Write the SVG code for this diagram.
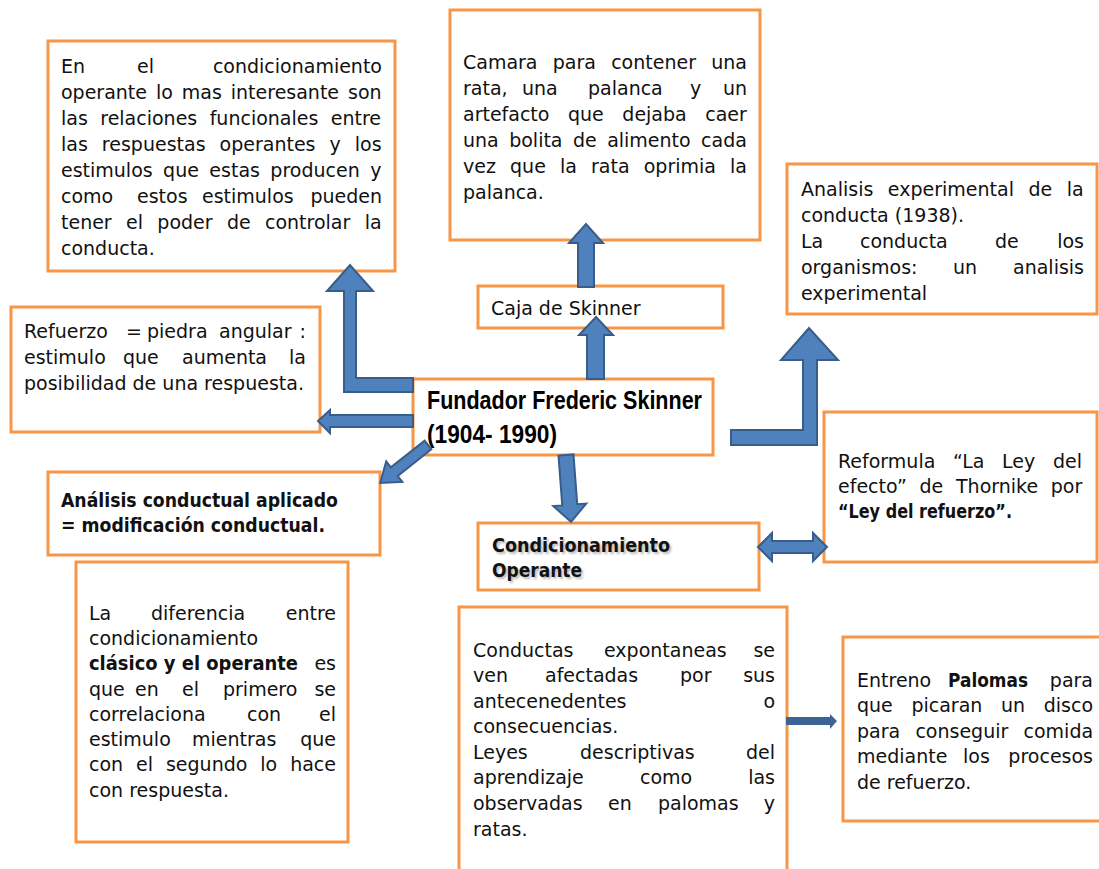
<svg xmlns="http://www.w3.org/2000/svg" width="1099" height="869" viewBox="0 0 1099 869">
<style>
.box{fill:#fff;stroke:#F79646;stroke-width:3}
.t{font-family:"DejaVu Sans",sans-serif;font-size:19px;fill:#111}
.b{font-weight:bold}
.ttl{font-family:"Liberation Sans",Arial,sans-serif;font-size:25px;font-weight:bold;fill:#000}
.arr{fill:#4F81BD;stroke:#385D8A;stroke-width:2;stroke-linejoin:miter}
.arr2{fill:#3D6396}
.sh{fill:#8a8a8a;opacity:0.6}
</style>
<defs>
<filter id="blur" x="-5%" y="-20%" width="110%" height="140%"><feGaussianBlur stdDeviation="0.8"/></filter>
</defs>
<rect width="1099" height="869" fill="#fff"/>

<g id="n-operante-texto">
<rect class="box" x="48" y="41" width="347" height="230"/>
<text class="t" y="73"><tspan x="61">En</tspan><tspan x="137">el</tspan><tspan x="382" text-anchor="end">condicionamiento</tspan></text>
<text class="t" x="61" y="99" word-spacing="2.9">operante lo mas interesante son</text>
<text class="t" x="61" y="125" word-spacing="6.4">las relaciones funcionales entre</text>
<text class="t" x="61" y="151" word-spacing="8">las respuestas operantes y los</text>
<text class="t" x="61" y="177" word-spacing="4.4">estimulos que estas producen y</text>
<text class="t" y="203"><tspan x="61">como</tspan><tspan x="137">estos</tspan><tspan x="202">estimulos</tspan><tspan x="382" text-anchor="end">pueden</tspan></text>
<text class="t" x="61" y="229" word-spacing="8.3">tener el poder de controlar la</text>
<text class="t" x="61" y="255">conducta.</text>
</g>

<g id="n-camara">
<rect class="box" x="450" y="10" width="310" height="230"/>
<text class="t" x="463" y="69" word-spacing="9.2">Camara para contener una</text>
<text class="t" y="95"><tspan x="463">rata,</tspan><tspan x="522">una</tspan><tspan x="588">palanca</tspan><tspan x="690">y</tspan><tspan x="747" text-anchor="end">un</tspan></text>
<text class="t" x="463" y="121" word-spacing="12.5">artefacto que dejaba caer</text>
<text class="t" x="463" y="147" word-spacing="4.4">una bolita de alimento cada</text>
<text class="t" x="463" y="173" word-spacing="8.1">vez que la rata oprimia la</text>
<text class="t" x="463" y="199">palanca.</text>
</g>

<g id="n-caja">
<rect class="box" x="478" y="286" width="245" height="42"/>
<text class="t" x="491" y="315">Caja de Skinner</text>
</g>

<g id="n-analisis-exp">
<rect class="box" x="787" y="164" width="310" height="150"/>
<text class="t" x="801" y="196" word-spacing="8.5">Analisis experimental de la</text>
<text class="t" x="801" y="222">conducta (1938).</text>
<text class="t" y="248"><tspan x="801">La</tspan><tspan x="860">conducta</tspan><tspan x="995">de</tspan><tspan x="1084" text-anchor="end">los</tspan></text>
<text class="t" y="274"><tspan x="801">organismos:</tspan><tspan x="953">un</tspan><tspan x="1084" text-anchor="end">analisis</tspan></text>
<text class="t" x="801" y="300">experimental</text>
</g>

<g id="n-refuerzo">
<rect class="box" x="11" y="307" width="309" height="125"/>
<text class="t" y="338"><tspan x="24">Refuerzo</tspan><tspan x="126">=</tspan><tspan x="147">piedra</tspan><tspan x="219">angular</tspan><tspan x="306" text-anchor="end">:</tspan></text>
<text class="t" y="364"><tspan x="24">estimulo</tspan><tspan x="123">que</tspan><tspan x="182">aumenta</tspan><tspan x="306" text-anchor="end">la</tspan></text>
<text class="t" x="24" y="390">posibilidad de una respuesta.</text>
</g>

<g id="n-central">
<rect class="box" x="413" y="379" width="300" height="76"/>
<text class="ttl" x="427" y="409" textLength="275" lengthAdjust="spacingAndGlyphs">Fundador Frederic Skinner</text>
<text class="ttl" x="427" y="443" textLength="130" lengthAdjust="spacingAndGlyphs">(1904- 1990)</text>
</g>

<g id="n-aplicado">
<rect class="box" x="48" y="472" width="332" height="83"/>
<text class="t b" x="61" y="507" font-size="18" textLength="277" lengthAdjust="spacingAndGlyphs">Análisis conductual aplicado</text>
<text class="t b" x="61" y="532" font-size="18" textLength="264" lengthAdjust="spacingAndGlyphs">= modificación conductual.</text>
</g>

<g id="n-condicionamiento">
<rect class="box" x="478" y="523" width="281" height="67"/>
<g filter="url(#blur)">
<text class="t b sh" x="494" y="554" font-size="18" textLength="178" lengthAdjust="spacingAndGlyphs">Condicionamiento</text>
<text class="t b sh" x="494" y="579" font-size="18" textLength="90" lengthAdjust="spacingAndGlyphs">Operante</text>
</g>
<text class="t b" x="492" y="552" font-size="18" textLength="178" lengthAdjust="spacingAndGlyphs">Condicionamiento</text>
<text class="t b" x="492" y="577" font-size="18" textLength="90" lengthAdjust="spacingAndGlyphs">Operante</text>
</g>

<g id="n-reformula">
<rect class="box" x="824" y="412" width="273" height="150"/>
<text class="t" x="838" y="468" word-spacing="11.6">Reformula “La Ley del</text>
<text class="t" x="838" y="493" word-spacing="6.7">efecto” de Thornike por</text>
<text class="t b" x="838" y="518" textLength="174" lengthAdjust="spacingAndGlyphs">“Ley del refuerzo”.</text>
</g>

<g id="n-diferencia">
<rect class="box" x="76" y="562" width="272" height="280"/>
<text class="t" y="620"><tspan x="89">La</tspan><tspan x="151">diferencia</tspan><tspan x="336" text-anchor="end">entre</tspan></text>
<text class="t" x="89" y="645">condicionamiento</text>
<text class="t" y="670"><tspan class="b" x="89" textLength="209" lengthAdjust="spacingAndGlyphs">clásico y el operante</tspan><tspan x="336" text-anchor="end">es</tspan></text>
<text class="t" y="696"><tspan x="89">que</tspan><tspan x="135">en</tspan><tspan x="182">el</tspan><tspan x="223">primero</tspan><tspan x="336" text-anchor="end">se</tspan></text>
<text class="t" y="721"><tspan x="89">correlaciona</tspan><tspan x="247">con</tspan><tspan x="336" text-anchor="end">el</tspan></text>
<text class="t" y="746"><tspan x="89">estimulo</tspan><tspan x="192">mientras</tspan><tspan x="336" text-anchor="end">que</tspan></text>
<text class="t" x="89" y="771" word-spacing="6.9">con el segundo lo hace</text>
<text class="t" x="89" y="797">con respuesta.</text>
</g>

<g id="n-conductas">
<rect class="box" x="459" y="607" width="328" height="275"/>
<text class="t" y="657"><tspan x="473">Conductas</tspan><tspan x="604">expontaneas</tspan><tspan x="775" text-anchor="end">se</tspan></text>
<text class="t" y="682"><tspan x="473">ven</tspan><tspan x="545">afectadas</tspan><tspan x="680">por</tspan><tspan x="775" text-anchor="end">sus</tspan></text>
<text class="t" y="708"><tspan x="473">antecenedentes</tspan><tspan x="775" text-anchor="end">o</tspan></text>
<text class="t" x="473" y="733">consecuencias.</text>
<text class="t" y="759"><tspan x="473">Leyes</tspan><tspan x="580">descriptivas</tspan><tspan x="775" text-anchor="end">del</tspan></text>
<text class="t" y="784"><tspan x="473">aprendizaje</tspan><tspan x="640">como</tspan><tspan x="775" text-anchor="end">las</tspan></text>
<text class="t" y="810"><tspan x="473">observadas</tspan><tspan x="608">en</tspan><tspan x="658">palomas</tspan><tspan x="775" text-anchor="end">y</tspan></text>
<text class="t" x="473" y="836">ratas.</text>
</g>

<g id="n-palomas">
<rect class="box" x="843" y="637" width="270" height="184"/>
<text class="t" y="687"><tspan x="857">Entreno</tspan><tspan class="b" x="948" textLength="80" lengthAdjust="spacingAndGlyphs">Palomas</tspan><tspan x="1093" text-anchor="end">para</tspan></text>
<text class="t" x="857" y="712" word-spacing="12.6">que picaran un disco</text>
<text class="t" x="857" y="738" word-spacing="9.2">para conseguir comida</text>
<text class="t" y="763"><tspan x="857">mediante</tspan><tspan x="963">los</tspan><tspan x="1093" text-anchor="end">procesos</tspan></text>
<text class="t" x="857" y="789">de refuerzo.</text>
</g>

<g id="connectors">
<polygon class="arr" points="413,378 356,378 356,291 373,291 350,265 327,291 344,291 344,392 413,392"/>
<polygon class="arr" points="413,415 330,415 330,410 318,421 330,433 330,427 413,427"/>
<polygon class="arr" transform="translate(428,445) rotate(141.6)" points="0,-5.5 43,-5.5 43,-13 61,0 43,13 43,5.5 0,5.5"/>
<polygon class="arr" transform="translate(566,455) rotate(85.7)" points="0,-7.5 50,-7.5 50,-16.5 67,0 50,16.5 50,7.5 0,7.5"/>
<polygon class="arr" points="587,379 587,335 579,335 596,317 613,335 604,335 604,379"/>
<polygon class="arr" points="578,287 578,243 569,243 586,224 603,243 594,243 594,287"/>
<polygon class="arr" points="731,430 803,430 803,360 781,360 809,328 838,360 817,360 817,445 731,445"/>
<polygon class="arr" points="758,547 772,533 772,541 813,541 813,533 827,547 813,561 813,553 772,553 772,561"/>
<polygon class="arr2" points="786,717 830,717 830,714 837,721 830,729 830,725 786,725"/>
</g>
</svg>
